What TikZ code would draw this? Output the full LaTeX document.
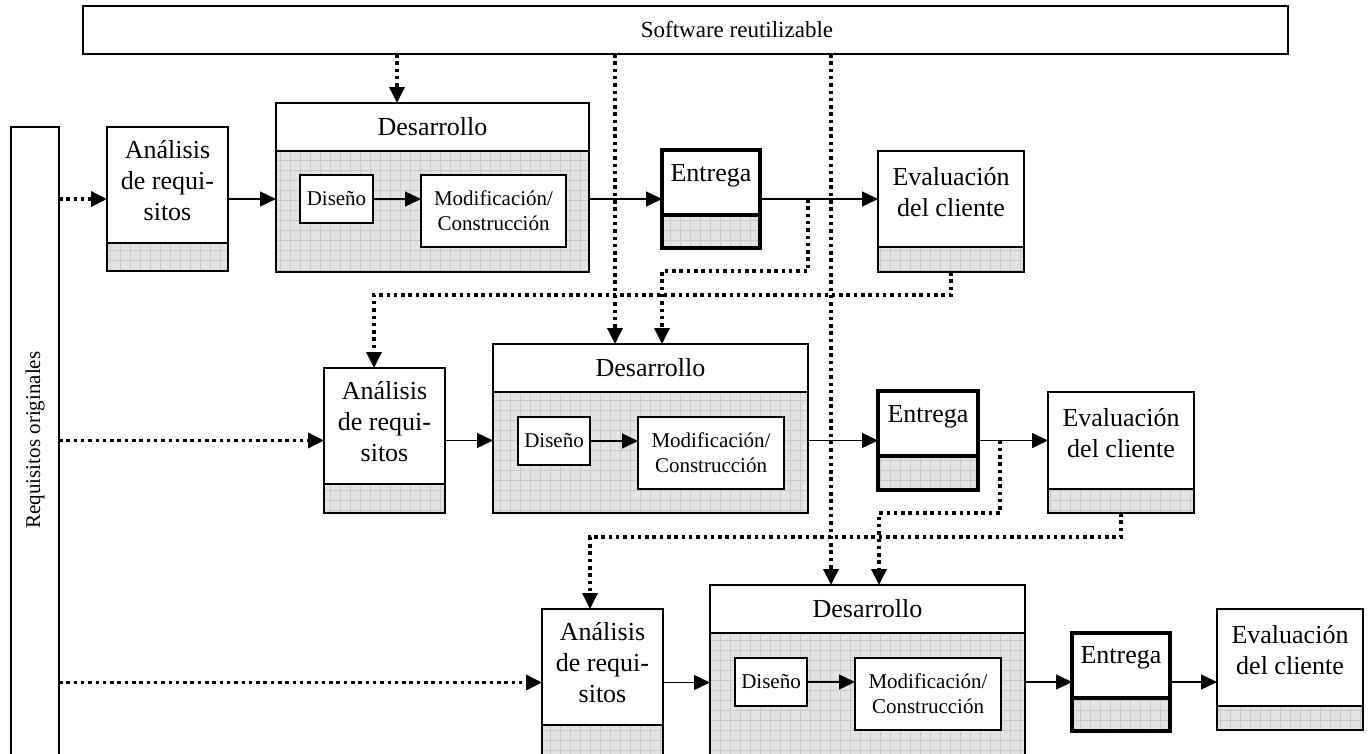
\documentclass[tikz,border=0pt]{standalone}
\usepackage{fontspec}
\setmainfont{Liberation Serif}
\usetikzlibrary{arrows.meta,fit}
\tikzset{
  box/.style={draw=black, line width=1.3pt},
  thickbox/.style={draw=black, line width=3.3pt},
  gridbg/.style={fill=gray!22},
  gridln/.style={draw=gray!42, line width=0.5pt, step=10pt},
  arr/.style={draw, line width=1.4pt, -{Triangle[length=16pt,width=15pt]}},
  darr/.style={draw, line width=3.5pt, dash pattern=on 3.5pt off 3.8pt, -{Triangle[length=16pt,width=15pt]}},
  big/.style={font=\fontsize{26pt}{31pt}\selectfont, align=center, inner sep=0pt},
  small/.style={font=\fontsize{21pt}{25pt}\selectfont, align=center, inner sep=0pt},
  fitbox/.style={inner sep=0pt, outer sep=0pt},
}
% #1 style, #2 name, #3 x1, #4 y1, #5 x2, #6 y2, #7 separator y
\newcommand{\splitbox}[7][box]{%
  \begin{scope}
    \clip (#3,#7) rectangle (#5,#6);
    \fill[gridbg] (#3,#7) rectangle (#5,#6);
    \draw[gridln] (#3-10,#6+10) grid (#5+10,#7-10);
  \end{scope}
  \draw[#1] (#3,#4) rectangle (#5,#6);
  \draw[#1] (#3,#7) -- (#5,#7);
  \node[fitbox, fit={(#3,#4)(#5,#6)}] (#2) {};
}
% #1 name, #2 x1, #3 y1, #4 x2, #5 y2
\newcommand{\whitebox}[5]{%
  \draw[box, fill=white] (#2,#3) rectangle (#4,#5);
  \node[fitbox, fit={(#2,#3)(#4,#5)}] (#1) {};
}
\begin{document}
\begin{tikzpicture}[x=1pt,y=-1pt]
\useasboundingbox (0,0) rectangle (1371,753);

% reusable software bar and original requirements column
\whitebox{sw}{83}{6}{1288}{54}
\node[font=\fontsize{23pt}{27pt}\selectfont, inner sep=0pt] (swt) at (737,30) {Software reutilizable};
\whitebox{req}{11}{127}{59}{770}
\node[rotate=90, font=\fontsize{21pt}{25pt}\selectfont, inner sep=0pt] (reqt) at (35,440) {Requisitos originales};

% ---------- row 1 ----------
\splitbox{an1}{107}{127}{228}{271}{243}
\node[big] (an1t) at (167.5,181) {Análisis\\de requi-\\sitos};
\splitbox{dev1}{276}{103}{589}{272}{151}
\node[big] (dev1t) at (432.5,127) {Desarrollo};
\whitebox{dis1}{300}{175}{373}{223}
\node[small] (dis1t) at (dis1) {Diseño};
\whitebox{mod1}{421}{175}{566}{247}
\node[small] (mod1t) at (mod1) {Modificación/\\Construcción};
\splitbox[thickbox]{ent1}{662}{150}{760}{248}{215}
\node[big, anchor=base] (ent1t) at (711,181) {Entrega};
\splitbox{ev1}{878}{151}{1024}{272}{247}
\node[big] (ev1t) at (951,192) {Evaluación\\del cliente};

% ---------- row 2 ----------
\splitbox{an2}{324}{368}{445}{513}{484}
\node[big] (an2t) at (384.5,422) {Análisis\\de requi-\\sitos};
\splitbox{dev2}{493}{344}{808}{513}{392}
\node[big] (dev2t) at (650.5,368) {Desarrollo};
\whitebox{dis2}{518}{417}{590}{465}
\node[small] (dis2t) at (dis2) {Diseño};
\whitebox{mod2}{638}{417}{784}{489}
\node[small] (mod2t) at (mod2) {Modificación/\\Construcción};
\splitbox[thickbox]{ent2}{878}{391}{978}{490}{456}
\node[big, anchor=base] (ent2t) at (928,422) {Entrega};
\splitbox{ev2}{1048}{392}{1194}{513}{489}
\node[big] (ev2t) at (1121,433) {Evaluación\\del cliente};

% ---------- row 3 ----------
\splitbox{an3}{542}{609}{663}{756}{725}
\node[big] (an3t) at (602.5,663) {Análisis\\de requi-\\sitos};
\splitbox{dev3}{710}{585}{1025}{756}{633}
\node[big] (dev3t) at (867.5,609) {Desarrollo};
\whitebox{dis3}{735}{658}{807}{706}
\node[small] (dis3t) at (dis3) {Diseño};
\whitebox{mod3}{855}{658}{1001}{730}
\node[small] (mod3t) at (mod3) {Modificación/\\Construcción};
\splitbox[thickbox]{ent3}{1072}{633}{1170}{731}{698}
\node[big, anchor=base] (ent3t) at (1121,663) {Entrega};
\splitbox{ev3}{1217}{609}{1363}{730}{706}
\node[big] (ev3t) at (1290,650) {Evaluación\\del cliente};

% ---------- solid flow arrows ----------
\draw[arr] (an1.east) -- (an1.east -| dev1.west);
\draw[arr] (dis1.east) -- (dis1.east -| mod1.west);
\draw[arr] (ent1.west -| dev1.east) -- (ent1.west);
\draw[arr] (ent1.east) -- (ent1.east -| ev1.west);

\draw[arr] (an2.east) -- (an2.east -| dev2.west);
\draw[arr] (dis2.east) -- (dis2.east -| mod2.west);
\draw[arr] (ent2.west -| dev2.east) -- (ent2.west);
\draw[arr] (ent2.east) -- (ent2.east -| ev2.west);

\draw[arr] (an3.east) -- (an3.east -| dev3.west);
\draw[arr] (dis3.east) -- (dis3.east -| mod3.west);
\draw[arr] (ent3.west -| dev3.east) -- (ent3.west);
\draw[arr] (ent3.east) -- (ent3.east -| ev3.west);

% ---------- dotted arrows ----------
\draw[darr] (req.east |- an1.west) -- (an1.west);
\draw[darr] (req.east |- an2.west) -- (an2.west);
\draw[darr] (req.east |- an3.west) -- (an3.west);

\coordinate (t1) at (397,103);
\coordinate (t2) at (615,344);
\coordinate (t3) at (831,585);
\draw[darr] (sw.south -| t1) -- (t1);
\draw[darr] (sw.south -| t2) -- (t2);
\draw[darr] (sw.south -| t3) -- (t3);

\coordinate (f1) at (808,199);
\coordinate (u2) at (662,344);
\draw[darr] (f1) -- ++(0,72) -| (u2);
\coordinate (a2) at (374,368);
\draw[darr] (ev1.south) -- ++(0,23) -| (a2);

\coordinate (f2) at (1000,440.5);
\coordinate (u3) at (879,585);
\draw[darr] (f2) -- ++(0,72.5) -| (u3);
\coordinate (a3) at (590,609);
\draw[darr] (ev2.south) -- ++(0,24) -| (a3);
\end{tikzpicture}
\end{document}
